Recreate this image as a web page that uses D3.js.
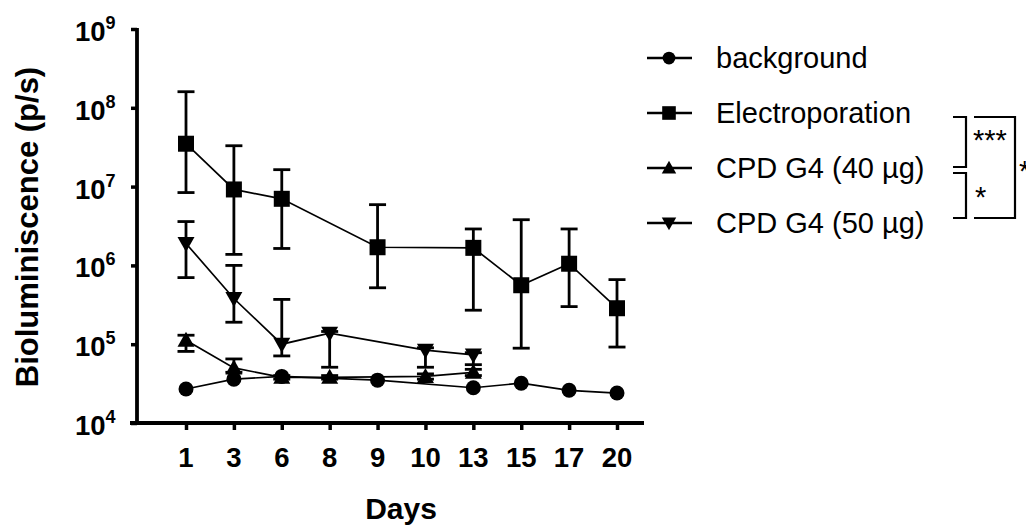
<!DOCTYPE html>
<html><head><meta charset="utf-8">
<script src="https://cdn.jsdelivr.net/npm/d3@7"></script>
<style>body{margin:0;background:#fff}svg{display:block}</style>
</head><body>
<script>
const days = ["1","3","6","8","9","10","13","15","17","20"];
const yTicks = [1e4,1e5,1e6,1e7,1e8,1e9];
const seriesNames = ["background","Electroporation","CPD G4 (40 µg)","CPD G4 (50 µg)"];
const background   = [2.7e4,3.6e4,3.9e4,null,3.5e4,null,2.8e4,3.2e4,2.6e4,2.4e4];
const electro      = [3.5e7,9.2e6,7.0e6,null,1.7e6,null,1.67e6,5.6e5,1.05e6,2.86e5];
const electroHi    = [1.6e8,3.3e7,1.64e7,null,5.9e6,null,2.9e6,3.8e6,2.9e6,6.6e5];
const electroLo    = [8.4e6,1.38e6,1.64e6,null,5.2e5,null,2.7e5,8.9e4,3.0e5,9.2e4];
const cpd40        = [1.12e5,5.0e4,3.8e4,3.8e4,null,3.9e4,4.4e4,null,null,null];
const cpd40Hi      = [1.3e5,6.5e4,4.0e4,4.0e4,null,4.2e4,4.8e4,null,null,null];
const cpd40Lo      = [8.1e4,4.4e4,3.6e4,3.6e4,null,3.6e4,4.0e4,null,null,null];
const cpd50        = [1.9e6,3.8e5,1.0e5,1.38e5,null,8.4e4,7.3e4,null,null,null];
const cpd50Hi      = [3.6e6,1.0e6,3.7e5,1.45e5,null,9.0e4,7.8e4,null,null,null];
const cpd50Lo      = [7.0e5,1.9e5,7.1e4,5.1e4,null,5.1e4,5.5e4,null,null,null];
const sigLabels = ["***","*","*"];

const W=1026,H=525;
const svg=d3.select("body").append("svg").attr("width",W).attr("height",H);
const F="'Liberation Sans', Arial, sans-serif";
const x=d3.scalePoint().domain(days).range([186,617]);
const y=d3.scaleLog().domain([1e4,1e9]).range([423,29]);

// axes
const gx=svg.append("g").attr("transform","translate(0,423)")
  .call(d3.axisBottom(x).tickSize(7).tickSizeOuter(0).tickFormat(""));
gx.select(".domain").remove();
gx.selectAll(".tick line").attr("stroke","#000").attr("stroke-width",3.5);
svg.append("line").attr("x1",130).attr("x2",644).attr("y1",y(1e4)).attr("y2",y(1e4))
  .attr("stroke","#000").attr("stroke-width",3.8);
const gy=svg.append("g").attr("transform","translate(137,0)")
  .call(d3.axisLeft(y).tickValues(yTicks).tickSize(6).tickSizeOuter(0).tickFormat(""));
gy.select(".domain").remove();
gy.selectAll(".tick line").attr("stroke","#000").attr("stroke-width",3.5);
svg.append("line").attr("x1",137).attr("x2",137).attr("y1",y(1e9)-1).attr("y2",y(1e4)+1.9)
  .attr("stroke","#000").attr("stroke-width",3.8);

// tick labels
svg.append("g").selectAll("text").data(days).join("text")
  .attr("x",d=>x(d)).attr("y",467).attr("text-anchor","middle")
  .attr("font-family",F).attr("font-weight","bold").attr("font-size",27.5).text(d=>d);
const yl=svg.append("g").selectAll("text").data(yTicks).join("text")
  .attr("x",75).attr("y",d=>y(d)+12)
  .attr("font-family",F).attr("font-weight","bold").attr("font-size",27.5);
yl.append("tspan").text("10");
yl.append("tspan").attr("dy",-12).attr("font-size",18).text(d=>Math.round(Math.log10(d)));

// titles
svg.append("text").attr("x",401).attr("y",519).attr("text-anchor","middle")
  .attr("font-family",F).attr("font-weight","bold").attr("font-size",30).text("Days");
svg.append("text").attr("transform","translate(38,227) rotate(-90)").attr("text-anchor","middle")
  .attr("font-family",F).attr("font-weight","bold").attr("font-size",31).text("Bioluminiscence (p/s)");

// series
const series=[
  {v:background,hi:null,lo:null,sym:"circle"},
  {v:electro,hi:electroHi,lo:electroLo,sym:"square"},
  {v:cpd40,hi:cpd40Hi,lo:cpd40Lo,sym:"up"},
  {v:cpd50,hi:cpd50Hi,lo:cpd50Lo,sym:"down"}
];
function marker(g,sym){
  if(sym==="circle") g.append("circle").attr("r",7.5);
  else if(sym==="square") g.append("rect").attr("x",-8).attr("y",-8).attr("width",16).attr("height",16);
  else if(sym==="up") g.append("path").attr("d","M0,-8.5L8.5,6.5L-8.5,6.5Z");
  else g.append("path").attr("d","M0,8.5L8.5,-6.5L-8.5,-6.5Z");
}
const line=d3.line().x(d=>x(d.day)).y(d=>y(d.v));
series.forEach(s=>{
  const pts=days.map((d,i)=>({day:d,v:s.v[i],hi:s.hi?s.hi[i]:null,lo:s.lo?s.lo[i]:null})).filter(p=>p.v!=null);
  s.pts=pts;
  svg.append("path").datum(pts).attr("d",line).attr("fill","none").attr("stroke","#000").attr("stroke-width",1.7);
});
series.forEach(s=>{
  if(!s.hi) return;
  const g=svg.append("g").attr("stroke","#000").attr("stroke-width",2.8);
  s.pts.forEach(p=>{
    const cx=x(p.day);
    g.append("line").attr("x1",cx).attr("x2",cx).attr("y1",y(p.hi)).attr("y2",y(p.lo));
    [p.hi,p.lo].forEach(v=>g.append("line").attr("x1",cx-8.5).attr("x2",cx+8.5).attr("y1",y(v)).attr("y2",y(v)));
  });
});
series.forEach(s=>{
  s.pts.forEach(p=>{
    const g=svg.append("g").attr("transform",`translate(${x(p.day)},${y(p.v)})`).attr("fill","#000");
    marker(g,s.sym);
  });
});

// legend
const ly=[58,113,168,223];
series.forEach((s,i)=>{
  const g=svg.append("g").attr("transform",`translate(0,${ly[i]})`);
  g.append("line").attr("x1",647).attr("x2",692).attr("stroke","#000").attr("stroke-width",2.4);
  const m=g.append("g").attr("transform","translate(669,0)");
  marker(m,s.sym);
  m.selectAll("*").attr("transform","scale(0.85)");
  g.append("text").attr("x",716).attr("y",0).attr("dy","0.35em")
    .attr("font-family",F).attr("font-size",29).text(seriesNames[i]);
});

// significance brackets
const br=svg.append("g").attr("fill","none").attr("stroke","#000").attr("stroke-width",2.2);
br.append("path").attr("d","M953,117H966V167H953");
br.append("path").attr("d","M953,173H966V218H953");
br.append("path").attr("d","M974,117H1015V218H974");
const st=svg.append("g").attr("font-family",F).attr("font-size",29);
st.append("text").attr("x",973).attr("y",150).text(sigLabels[0]);
st.append("text").attr("x",975).attr("y",207).text(sigLabels[1]);
st.append("text").attr("x",1019).attr("y",181).text(sigLabels[2]);
</script>
</body></html>
